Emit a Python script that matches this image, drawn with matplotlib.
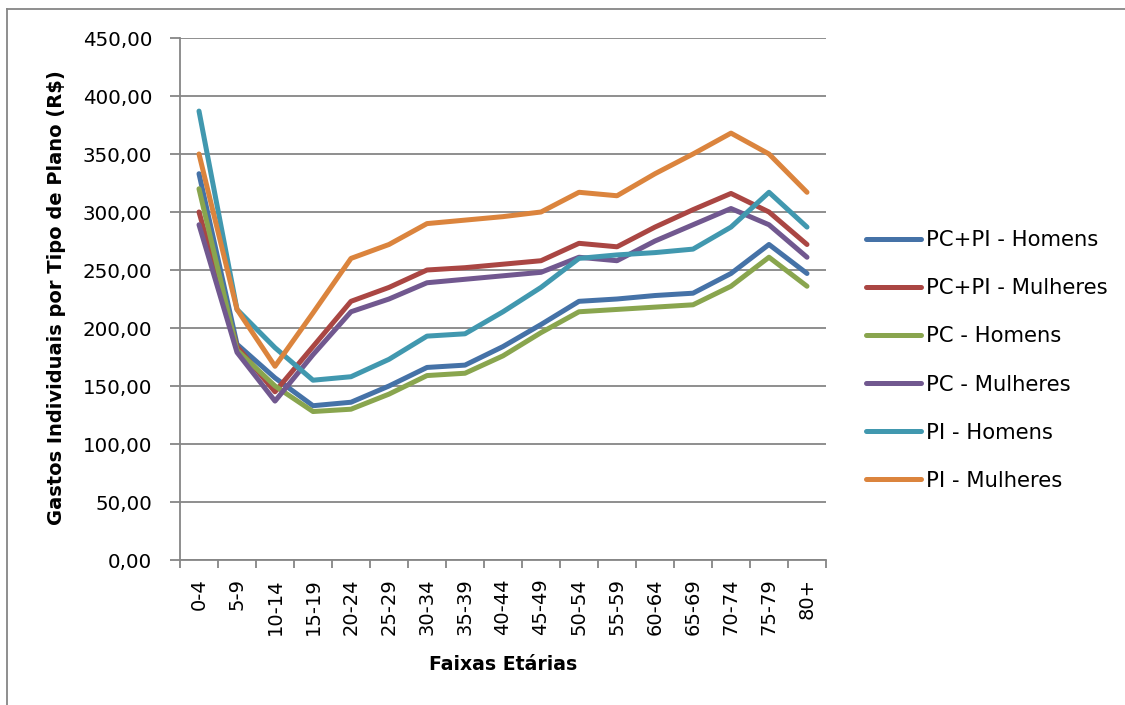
import matplotlib.pyplot as plt
from matplotlib.lines import Line2D
from matplotlib.ticker import FuncFormatter

# Faixas etarias (eixo x)
faixas = ["0-4", "5-9", "10-14", "15-19", "20-24", "25-29", "30-34", "35-39", "40-44",
          "45-49", "50-54", "55-59", "60-64", "65-69", "70-74", "75-79", "80+"]

# Gastos individuais por tipo de plano (R$)
pcpi_homens = [333, 186, 157, 133, 136, 150, 166, 168, 184, 203, 223, 225, 228, 230, 247, 272, 247]
pcpi_mulheres = [300, 184, 145, 184, 223, 235, 250, 252, 255, 258, 273, 270, 287, 302, 316, 300, 272]
pc_homens = [320, 181, 150, 128, 130, 143, 159, 161, 176, 196, 214, 216, 218, 220, 236, 261, 236]
pc_mulheres = [289, 179, 137, 177, 214, 225, 239, 242, 245, 248, 261, 258, 275, 289, 303, 289, 261]
pi_homens = [387, 216, 183, 155, 158, 173, 193, 195, 214, 235, 260, 263, 265, 268, 287, 317, 287]
pi_mulheres = [350, 216, 167, 213, 260, 272, 290, 293, 296, 300, 317, 314, 333, 350, 368, 350, 317]

series = ["PC+PI - Homens", "PC+PI - Mulheres", "PC - Homens",
          "PC - Mulheres", "PI - Homens", "PI - Mulheres"]
cores = ["#4572A7", "#AA4643", "#89A54E", "#71588F", "#4198AF", "#DB843D"]
valores = [pcpi_homens, pcpi_mulheres, pc_homens, pc_mulheres, pi_homens, pi_mulheres]

W, H = 1125, 705
fig = plt.figure(figsize=(W / 100, H / 100), dpi=100)
ax = fig.add_axes([180 / W, 1 - 560 / H, (826 - 180) / W, (560 - 38) / H])

x = range(len(faixas))
for nome, cor, v in zip(series, cores, valores):
    ax.plot(x, v, color=cor, lw=3.6, label=nome,
            solid_capstyle="round", solid_joinstyle="round", zorder=3)

grid_cor = "#868686"
ax.set_ylim(0, 450)
ax.set_yticks(range(0, 451, 50))
ax.yaxis.set_major_formatter(FuncFormatter(lambda v, p: f"{v:.2f}".replace(".", ",")))
ax.yaxis.grid(True, color=grid_cor, lw=1.3)
ax.set_axisbelow(True)

ax.set_xlim(-0.5, len(faixas) - 0.5)
ax.set_xticks(x)
ax.set_xticklabels(faixas, rotation=90)
ax.set_xticks([i - 0.5 for i in range(len(faixas) + 1)], minor=True)
ax.tick_params(axis="x", which="major", length=0, pad=13, labelsize=14)
ax.tick_params(axis="x", which="minor", length=6, width=1.3, color=grid_cor)
ax.tick_params(axis="y", length=7, width=1.3, color=grid_cor, pad=13, labelsize=14.3)

for s in ["top", "right"]:
    ax.spines[s].set_visible(False)
for s in ["left", "bottom"]:
    ax.spines[s].set_color(grid_cor)
    ax.spines[s].set_linewidth(1.3)

fig.text(57 / W, 1 - 298 / H, "Gastos Individuais por Tipo de Plano (R$)",
         rotation=90, ha="center", va="center", fontsize=14, fontweight="bold")
fig.text(503 / W, 1 - 665 / H, "Faixas Etárias",
         ha="center", va="center", fontsize=13.6, fontweight="bold")

ax.legend(loc="center left", bbox_to_anchor=(866 / W, 1 - 360.5 / H),
          bbox_transform=fig.transFigure, frameon=False, fontsize=15.2,
          borderpad=0, borderaxespad=0, handlelength=2.6, handletextpad=0.25,
          labelspacing=1.33)

# moldura externa do grafico
fig.add_artist(Line2D([7 / W, 1], [1 - 9 / H, 1 - 9 / H], color=grid_cor, lw=1.3))
fig.add_artist(Line2D([7 / W, 7 / W], [0, 1 - 9 / H], color=grid_cor, lw=1.3))

fig.savefig("out.png", dpi=100)
